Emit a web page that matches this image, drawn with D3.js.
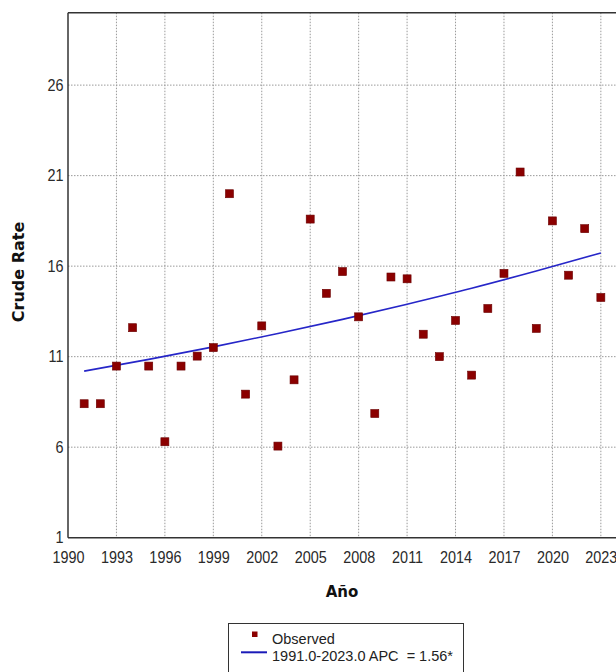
<!DOCTYPE html>
<html>
<head>
<meta charset="utf-8">
<script src="https://cdn.jsdelivr.net/npm/d3@7"></script>
<style>
  body { margin: 0; background: #fff; }
  svg { display: block; font-family: "Liberation Sans", Arial, sans-serif; }
</style>
</head>
<body>
<svg id="chart" width="616" height="672"></svg>
<script>
// observed crude rates
const years = d3.range(1991, 2024)
const observed = [8.4, 8.4, 10.48, 12.6, 10.48, 6.3, 10.48, 11.03, 11.5, 20.0,
  8.93, 12.7, 6.06, 9.72, 18.6, 14.5, 15.7, 13.2, 7.86, 15.4,
  15.3, 12.24, 11.0, 13.0, 9.98, 13.66, 15.6, 21.2, 12.56, 18.5,
  15.5, 18.07, 14.27]

// fitted joinpoint line
const fitYears = [1991, 1995, 1999, 2003, 2007, 2011, 2015, 2019, 2023]
const fitted = [10.2, 10.85, 11.54, 12.28, 13.06, 13.9, 14.78, 15.73, 16.73]

const xTicks = [1990, 1993, 1996, 1999, 2002, 2005, 2008, 2011, 2014, 2017, 2020, 2023]
const yTicks = [1, 6, 11, 16, 21, 26]

const svg = d3.select('#chart')
const pLeft = 68, pTop = 12.7, pBottom = 537.7, pRight = 617

let x = d3.scaleLinear().domain([1990, 2024]).range([pLeft, pRight])
let y = d3.scaleLinear().domain([1, 30]).range([pBottom, pTop])

//网格
let grid = svg.append('g')
grid.selectAll('.vg').data(xTicks.slice(1)).enter().append('line')
  .attr('x1', d => x(d)).attr('x2', d => x(d))
  .attr('y1', pTop).attr('y2', pBottom)
  .attr('stroke', '#9a9a9a').attr('stroke-dasharray', '1.5,1.5')
grid.selectAll('.hg').data(yTicks.slice(1)).enter().append('line')
  .attr('x1', pLeft).attr('x2', pRight)
  .attr('y1', d => y(d)).attr('y2', d => y(d))
  .attr('stroke', '#9a9a9a').attr('stroke-dasharray', '1.5,1.5')

// frame
svg.append('line').attr('x1', pLeft).attr('x2', pRight).attr('y1', pTop).attr('y2', pTop)
  .attr('stroke', '#333').attr('stroke-width', 1.5)

let xAxis = svg.append('g').attr('transform', `translate(0,${pBottom})`)
  .call(d3.axisBottom(x).tickValues(xTicks).tickFormat(d3.format('d')).tickSize(0).tickPadding(14))
let yAxis = svg.append('g').attr('transform', `translate(${pLeft},0)`)
  .call(d3.axisLeft(y).tickValues(yTicks).tickSize(0).tickPadding(5))
;[xAxis, yAxis].forEach(function (a) {
  a.select('.domain').attr('stroke', '#333').attr('stroke-width', 1.5)
  a.selectAll('text').attr('font-size', 16).attr('fill', '#2a2a2a')
    .attr('transform', 'scale(0.9,1)')
    .style('font-family', '"Liberation Sans", Arial, sans-serif')
})
xAxis.select('.domain').attr('d', `M${pLeft},0H${pRight}`)
yAxis.select('.domain').attr('d', `M0,${pTop}V${pBottom}`)

// axis titles
svg.append('text').attr('x', 342).attr('y', 597).attr('text-anchor', 'middle')
  .style('font-family', '"DejaVu Sans", sans-serif')
  .attr('font-size', 15).attr('font-weight', 'bold').attr('fill', '#111').text('Año')
svg.append('text').attr('transform', 'translate(24,272) rotate(-90)').attr('text-anchor', 'middle')
  .style('font-family', '"DejaVu Sans", sans-serif')
  .attr('font-size', 16).attr('font-weight', 'bold').attr('fill', '#111').text('Crude Rate')

// trend line
let lineGenerator = d3.line().x((d, i) => x(fitYears[i])).y(d => y(d)).curve(d3.curveMonotoneX)
svg.append('path').datum(fitted).attr('d', lineGenerator)
  .attr('fill', 'none').attr('stroke', '#2626c8').attr('stroke-width', 1.6)

// points
svg.selectAll('.pt').data(observed).enter().append('rect')
  .attr('x', (d, i) => x(years[i]) - 4).attr('y', d => y(d) - 4)
  .attr('width', 8).attr('height', 8)
  .attr('fill', '#8b0000').attr('stroke', '#6a0000').attr('stroke-width', 0.6)

// legend
let lg = svg.append('g')
lg.append('rect').attr('x', 228.5).attr('y', 623.5).attr('width', 235).attr('height', 60)
  .attr('fill', '#fff').attr('stroke', '#333').attr('stroke-width', 1)
lg.append('rect').attr('x', 252).attr('y', 631.5).attr('width', 5.5).attr('height', 5.5).attr('fill', '#8b0000')
lg.append('text').attr('x', 272).attr('y', 644).attr('font-size', 14.5).attr('fill', '#222').text('Observed')
lg.append('line').attr('x1', 241).attr('x2', 267).attr('y1', 652.3).attr('y2', 652.3)
  .attr('stroke', '#1a1ab8').attr('stroke-width', 2)
lg.append('text').attr('x', 272).attr('y', 660.5).attr('font-size', 14.5).attr('fill', '#222')
  .attr('xml:space', 'preserve').style('white-space', 'pre')
  .text('1991.0-2023.0 APC  = 1.56*')
</script>
</body>
</html>
